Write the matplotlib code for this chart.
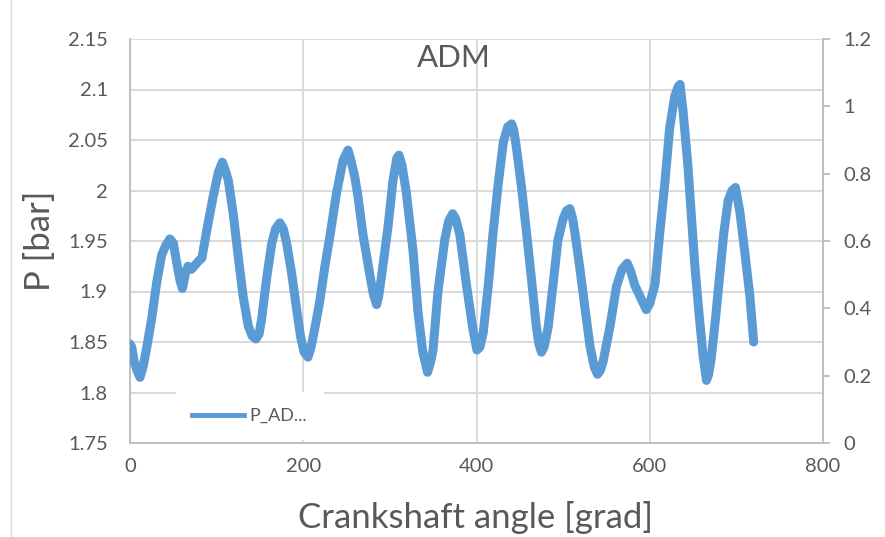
import numpy as np
import matplotlib.pyplot as plt
from matplotlib.lines import Line2D

# crank angle [grad] and pressure [bar]
angle = [0, 2, 5, 8, 11.5, 15, 19, 25, 31, 36.5, 41, 46, 50, 54, 58, 60.5, 64, 67, 71, 75,
         79, 83, 88.5, 96, 102, 106.6, 110, 113.5, 119, 125, 130.8, 136.5, 141, 145.4, 149,
         152, 157.7, 163.5, 168, 173, 177, 180.8, 186.6, 192.4, 197, 201, 205.5, 209, 213,
         219, 225, 231, 238.5, 246, 251.6, 255, 259.6, 263, 269, 277, 281, 284.7, 287, 290.5,
         298, 303.6, 308, 310.5, 314, 319, 326.9, 332.4, 338, 343.5, 347, 349.8, 355.5, 363.5,
         368, 372.4, 376, 380.8, 388.5, 396, 400.5, 404, 407.7, 413.5, 419, 425, 431, 436,
         440.5, 443, 446, 452, 457.8, 463.6, 469, 472, 475, 478, 482.8, 488.5, 494, 500, 504,
         507.8, 511, 513.6, 519, 525, 531, 536, 539.7, 543, 546, 554, 561.6, 568, 574, 578,
         582.8, 590.5, 596, 600, 606, 611.6, 617.4, 623, 629, 633, 635, 638.5, 644, 648, 652,
         657, 661.6, 665.5, 668, 671, 676, 681, 685.5, 690.5, 695, 699, 704, 709.7, 715.5, 720]
p_adm = [1.848, 1.845, 1.83, 1.822, 1.815, 1.825, 1.843, 1.873, 1.91, 1.936, 1.945, 1.952,
         1.948, 1.928, 1.91, 1.903, 1.918, 1.925, 1.922, 1.926, 1.93, 1.933, 1.96, 1.994, 2.018,
         2.028, 2.02, 2.01, 1.978, 1.934, 1.894, 1.866, 1.856, 1.853, 1.858, 1.873, 1.913, 1.947,
         1.962, 1.968, 1.962, 1.948, 1.918, 1.882, 1.855, 1.84, 1.835, 1.845, 1.862, 1.89, 1.925,
         1.956, 1.998, 2.03, 2.04, 2.03, 2.013, 1.995, 1.956, 1.916, 1.897, 1.887, 1.895, 1.916,
         1.965, 2.01, 2.032, 2.035, 2.025, 1.998, 1.939, 1.88, 1.84, 1.82, 1.83, 1.842, 1.9,
         1.952, 1.97, 1.977, 1.972, 1.956, 1.906, 1.862, 1.842, 1.845, 1.859, 1.905, 1.957,
         2.006, 2.048, 2.063, 2.066, 2.06, 2.043, 2.003, 1.958, 1.911, 1.866, 1.848, 1.84, 1.845,
         1.865, 1.908, 1.951, 1.972, 1.98, 1.982, 1.972, 1.958, 1.925, 1.885, 1.846, 1.825,
         1.818, 1.822, 1.83, 1.865, 1.905, 1.922, 1.928, 1.92, 1.906, 1.892, 1.882, 1.888, 1.907,
         1.958, 2.007, 2.062, 2.094, 2.103, 2.105, 2.078, 2.025, 1.976, 1.926, 1.877, 1.836,
         1.812, 1.818, 1.834, 1.874, 1.918, 1.958, 1.99, 2.0, 2.003, 1.979, 1.939, 1.896, 1.85]

left_ticks = [1.75, 1.8, 1.85, 1.9, 1.95, 2.0, 2.05, 2.1, 2.15]
left_labels = ['1.75', '1.8', '1.85', '1.9', '1.95', '2', '2.05', '2.1', '2.15']
right_ticks = [0, 0.2, 0.4, 0.6, 0.8, 1.0, 1.2]
right_labels = ['0', '0.2', '0.4', '0.6', '0.8', '1', '1.2']
x_ticks = [0, 200, 400, 600, 800]

plt.rcParams['font.family'] = ['Lato', 'DejaVu Sans']
txt = '#595959'
grid = '#d9d9d9'
spine = '#bfbfbf'

fig = plt.figure(figsize=(8.85, 5.37), dpi=100)
ax = fig.add_axes([130/885, 1-443/537, 693/885, 404/537])

ax.plot(angle, p_adm, color='#5b9bd5', lw=6.5, solid_joinstyle='round',
        solid_capstyle='round', zorder=3)

ax.set_xlim(0, 800)
ax.set_ylim(1.75, 2.15)
ax.set_xticks(x_ticks)
ax.set_yticks(left_ticks)
ax.set_yticklabels(left_labels)
ax.grid(True, color=grid, lw=1.4)
ax.set_axisbelow(True)
ax.tick_params(axis='y', length=0, pad=16, labelsize=14.5, labelcolor=txt)
ax.tick_params(axis='x', length=0, pad=11, labelsize=14.5, labelcolor=txt)
for s in ['top', 'right']:
    ax.spines[s].set_visible(False)
for s in ['left', 'bottom']:
    ax.spines[s].set_color(spine)
    ax.spines[s].set_linewidth(1.4)

ax2 = ax.twinx()
ax2.set_ylim(0, 1.2)
ax2.set_yticks(right_ticks)
ax2.set_yticklabels(right_labels)
ax2.tick_params(axis='y', length=5, width=1.4, color=spine, pad=10,
                labelsize=14.5, labelcolor=txt)
for s in ['top', 'left', 'bottom']:
    ax2.spines[s].set_visible(False)
ax2.spines['right'].set_color(spine)
ax2.spines['right'].set_linewidth(1.4)

leg = ax2.legend(handles=[Line2D([], [], color='#5b9bd5', lw=3.5)], labels=['P_AD...'],
                 loc='lower left', bbox_to_anchor=(0.066, 0.007), frameon=True,
                 fancybox=False, edgecolor='none', facecolor='white', framealpha=1,
                 fontsize=13, handlelength=2.9, handletextpad=0.3, borderpad=0.9,
                 borderaxespad=0)
for t in leg.get_texts():
    t.set_color(txt)

fig.text(454/885, 1-58/537, 'ADM', ha='center', va='center', fontsize=22.5, color=txt)
fig.text(476/885, 1-517/537, 'Crankshaft angle [grad]', ha='center', va='center',
         fontsize=25, color=txt)
fig.text(40/885, 1-241/537, 'P [bar]', ha='center', va='center', rotation=90,
         fontsize=25, color=txt)

fig.add_artist(Line2D([10.5/885, 10.5/885], [0, 1], transform=fig.transFigure,
                      color=grid, lw=1))

fig.savefig('out.png', dpi=100)
